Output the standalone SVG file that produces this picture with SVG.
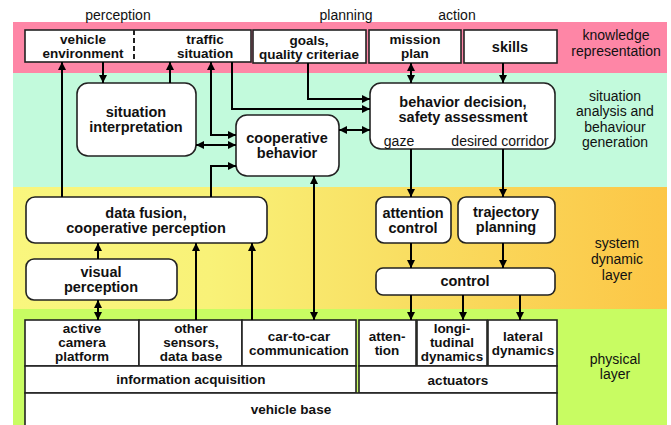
<svg xmlns="http://www.w3.org/2000/svg" width="671" height="425" viewBox="0 0 671 425">
<defs>
<linearGradient id="yel" x1="13" y1="0" x2="667" y2="0" gradientUnits="userSpaceOnUse">
<stop offset="0" stop-color="#f9f67e"/>
<stop offset="0.3" stop-color="#f9f278"/>
<stop offset="0.6" stop-color="#f9de62"/>
<stop offset="1" stop-color="#fcc646"/>
</linearGradient>
<marker id="ar" markerUnits="userSpaceOnUse" markerWidth="9" markerHeight="8" refX="8" refY="4" orient="auto-start-reverse">
<path d="M0,0 L8,4 L0,8 z" fill="#000"/>
</marker>
<style>
.box{fill:#fff;stroke:#222;stroke-width:1.6}
.b{font-family:"Liberation Sans",Arial,sans-serif;font-weight:bold;font-size:14.5px;fill:#111;text-anchor:middle}
.t{font-family:"Liberation Sans",Arial,sans-serif;font-weight:bold;font-size:13.5px;fill:#111;text-anchor:middle}
.p{font-family:"Liberation Sans",Arial,sans-serif;font-weight:bold;font-size:13.5px;fill:#111;text-anchor:middle}
.r{font-family:"Liberation Sans",Arial,sans-serif;font-size:14px;fill:#111;text-anchor:middle}
.c path{fill:none;stroke:#000;stroke-width:2}
.e{marker-end:url(#ar)}
.s{marker-start:url(#ar)}
</style>
</defs>
<rect width="671" height="425" fill="#fff"/>
<g id="bands">
<rect x="13" y="22" width="654" height="51" fill="#fe86a6"/>
<rect x="13" y="73" width="654" height="114" fill="#c2fadc"/>
<rect x="13" y="187" width="654" height="122" fill="url(#yel)"/>
<rect x="13" y="309" width="654" height="116" fill="#c8fc62"/>
</g>
<g id="headers">
<text class="r" x="118" y="20">perception</text>
<text class="r" x="346" y="20">planning</text>
<text class="r" x="457" y="20">action</text>
<text class="r" x="616" y="40">knowledge</text>
<text class="r" x="616" y="56">representation</text>
<text class="r" x="615" y="101">situation</text>
<text class="r" x="615" y="116">analysis and</text>
<text class="r" x="615" y="132">behaviour</text>
<text class="r" x="615" y="147">generation</text>
<text class="r" x="617" y="248">system</text>
<text class="r" x="617" y="264">dynamic</text>
<text class="r" x="617" y="280">layer</text>
<text class="r" x="615" y="364">physical</text>
<text class="r" x="615" y="379">layer</text>
</g>
<g id="perception-box">
<rect class="box" x="25" y="30" width="226" height="32"/>
<path d="M134,30 V62" stroke="#222" stroke-width="2" stroke-dasharray="5,3"/>
<text class="t" x="83" y="44">vehicle</text>
<text class="t" x="83" y="58">environment</text>
<text class="t" x="205" y="44">traffic</text>
<text class="t" x="205" y="58">situation</text>
</g>
<g id="goals">
<rect class="box" x="253" y="30" width="113" height="33"/>
<text class="t" x="309" y="45">goals,</text>
<text class="t" x="309" y="59">quality criteriae</text>
</g>
<g id="mission">
<rect class="box" x="369" y="30" width="92" height="33"/>
<text class="t" x="415" y="44">mission</text>
<text class="t" x="415" y="58">plan</text>
</g>
<g id="skills">
<rect class="box" x="464" y="30" width="93" height="33"/>
<text class="b" x="510" y="52">skills</text>
</g>
<g id="situation-interpretation">
<rect class="box" x="77" y="83" width="119" height="73" rx="11"/>
<text class="b" x="136" y="117">situation</text>
<text class="b" x="136" y="132">interpretation</text>
</g>
<g id="cooperative-behavior">
<rect class="box" x="236" y="115" width="103" height="61" rx="11"/>
<text class="b" x="287" y="143">cooperative</text>
<text class="b" x="287" y="158">behavior</text>
</g>
<g id="behavior-decision">
<rect class="box" x="370" y="83" width="185" height="66" rx="11"/>
<text class="b" x="463" y="107">behavior decision,</text>
<text class="b" x="463" y="122">safety assessment</text>
<text class="r" x="399" y="146">gaze</text>
<text class="r" x="500" y="146">desired corridor</text>
</g>
<g id="data-fusion">
<rect class="box" x="26" y="197" width="241" height="46" rx="9"/>
<text class="b" x="146" y="218">data fusion,</text>
<text class="b" x="146" y="233">cooperative perception</text>
</g>
<g id="visual-perception">
<rect class="box" x="26" y="259" width="151" height="41" rx="8"/>
<text class="b" x="101" y="277">visual</text>
<text class="b" x="101" y="292">perception</text>
</g>
<g id="attention-control">
<rect class="box" x="376" y="197" width="75" height="46" rx="8"/>
<text class="b" x="413" y="218">attention</text>
<text class="b" x="413" y="233">control</text>
</g>
<g id="trajectory-planning">
<rect class="box" x="458" y="197" width="97" height="46" rx="8"/>
<text class="b" x="506" y="217">trajectory</text>
<text class="b" x="506" y="232">planning</text>
</g>
<g id="control">
<rect class="box" x="376" y="268" width="179" height="27" rx="7"/>
<text class="b" x="465" y="286">control</text>
</g>
<g id="information-acquisition">
<rect class="box" x="25" y="320" width="114" height="46"/>
<rect class="box" x="139" y="320" width="103" height="46"/>
<rect class="box" x="242" y="320" width="114" height="46"/>
<rect class="box" x="25" y="366" width="331" height="27"/>
<text class="p" x="82" y="333">active</text>
<text class="p" x="82" y="347">camera</text>
<text class="p" x="82" y="361">platform</text>
<text class="p" x="191" y="333">other</text>
<text class="p" x="191" y="347">sensors,</text>
<text class="p" x="191" y="361">data base</text>
<text class="p" x="299" y="341">car-to-car</text>
<text class="p" x="299" y="355">communication</text>
<text class="p" x="191" y="384">information acquisition</text>
</g>
<g id="actuators">
<rect class="box" x="359" y="320" width="57" height="46"/>
<rect class="box" x="417" y="320" width="70" height="46"/>
<rect class="box" x="488" y="320" width="69" height="46"/>
<rect class="box" x="359" y="366" width="198" height="27"/>
<text class="p" x="387" y="341">atten-</text>
<text class="p" x="387" y="355">tion</text>
<text class="p" x="452" y="333">longi-</text>
<text class="p" x="452" y="347">tudinal</text>
<text class="p" x="452" y="361">dynamics</text>
<text class="p" x="523" y="341">lateral</text>
<text class="p" x="523" y="355">dynamics</text>
<text class="p" x="458" y="385">actuators</text>
</g>
<g id="vehicle-base">
<rect class="box" x="25" y="393" width="532" height="40"/>
<text class="p" x="291" y="414">vehicle base</text>
</g>
<g id="connectors" class="c">
<path class="e" d="M62,197 V62"/>
<path class="e" d="M103,62 V83"/>
<path class="e" d="M170,83 V62"/>
<path class="s e" d="M211,62 V135 H236"/>
<path class="e" d="M232,62 V109 H370"/>
<path class="e" d="M308,63 V99 H370"/>
<path class="s e" d="M196,145 H236"/>
<path class="s e" d="M339,130 H370"/>
<path class="e" d="M211,197 V166 H236"/>
<path class="s e" d="M314,176 V320"/>
<path class="s e" d="M411,63 V83"/>
<path class="e" d="M503,63 V83"/>
<path class="e" d="M411,149 V197"/>
<path class="e" d="M503,149 V197"/>
<path class="e" d="M411,243 V268"/>
<path class="e" d="M503,243 V268"/>
<path class="e" d="M411,295 V320"/>
<path class="e" d="M463,295 V320"/>
<path class="e" d="M520,295 V320"/>
<path class="e" d="M98,259 V243"/>
<path class="s e" d="M98,300 V320"/>
<path class="e" d="M196,320 V243"/>
<path class="e" d="M252,320 V243"/>
</g>
</svg>
